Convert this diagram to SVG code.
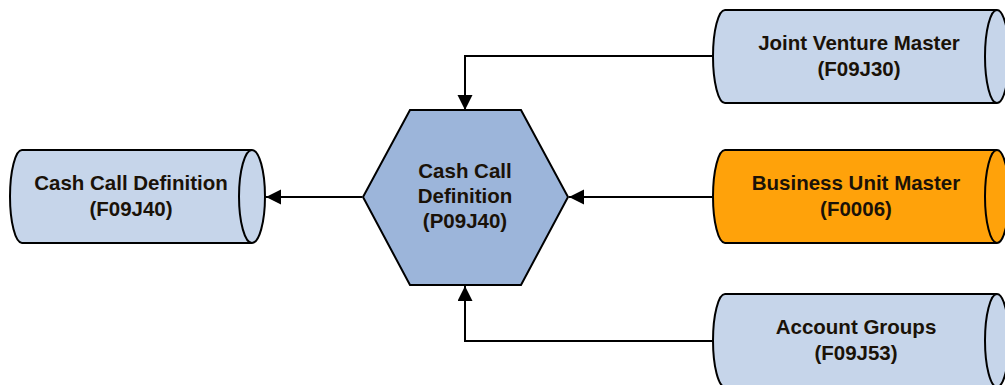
<svg xmlns="http://www.w3.org/2000/svg" width="1005" height="385" viewBox="0 0 1005 385">
<defs>
<marker id="ah" markerWidth="16" markerHeight="16" refX="15" refY="7.5" orient="auto" markerUnits="userSpaceOnUse">
<path d="M0,0 L15,7.5 L0,15 Z" fill="#000"/>
</marker>
<style>
.db{fill:#c6d5ea;stroke:#000;stroke-width:2}
.org{fill:#ffa20a;stroke:#000;stroke-width:2}
.cap{fill:none;stroke:#000;stroke-width:2}
.hex{fill:#9cb5da;stroke:#000;stroke-width:2}
.t{font-family:"Liberation Sans",Arial,sans-serif;font-weight:bold;font-size:20.5px;fill:#1a1208;text-anchor:middle}
.c{fill:none;stroke:#000;stroke-width:2}
</style>
</defs>
<rect width="1005" height="385" fill="#fff"/>
<g id="connectors">
<path class="c" d="M362,197 L266,197" marker-end="url(#ah)"/>
<path class="c" d="M713,56 L465,56 L465,110" marker-end="url(#ah)"/>
<path class="c" d="M713,197 L569,197" marker-end="url(#ah)"/>
<path class="c" d="M713,341 L465,341 L465,286" marker-end="url(#ah)"/>
</g>
<g id="cashcall-f09j40">
<path class="db" d="M22,150 L252,150 A13,46.5 0 0 1 252,243 L22,243 A12,46.5 0 0 1 22,150 Z"/>
<path class="cap" d="M252,150 A13,46.5 0 0 0 252,243"/>
<text class="t" x="131" y="190">Cash Call Definition</text>
<text class="t" x="131" y="216">(F09J40)</text>
</g>
<g id="cashcall-p09j40">
<polygon class="hex" points="410,110 521,110 568,197 521,285 410,285 363,197"/>
<text class="t" x="465" y="178">Cash Call</text>
<text class="t" x="465" y="203">Definition</text>
<text class="t" x="465" y="228">(P09J40)</text>
</g>
<g id="jv-master">
<path class="db" d="M725,10 L997,10 A12,46.5 0 0 1 997,103 L725,103 A12,46.5 0 0 1 725,10 Z"/>
<path class="cap" d="M997,10 A12,46.5 0 0 0 997,103"/>
<text class="t" x="859" y="50">Joint Venture Master</text>
<text class="t" x="859" y="76">(F09J30)</text>
</g>
<g id="bu-master">
<path class="org" d="M725,150 L997,150 A12,46.5 0 0 1 997,243 L725,243 A12,46.5 0 0 1 725,150 Z"/>
<path class="cap" d="M997,150 A12,46.5 0 0 0 997,243"/>
<text class="t" x="856" y="190">Business Unit Master</text>
<text class="t" x="856" y="216">(F0006)</text>
</g>
<g id="account-groups">
<path class="db" d="M725,294 L997,294 A12,46.5 0 0 1 997,387 L725,387 A12,46.5 0 0 1 725,294 Z"/>
<path class="cap" d="M997,294 A12,46.5 0 0 0 997,387"/>
<text class="t" x="856" y="334">Account Groups</text>
<text class="t" x="856" y="360">(F09J53)</text>
</g>
</svg>
